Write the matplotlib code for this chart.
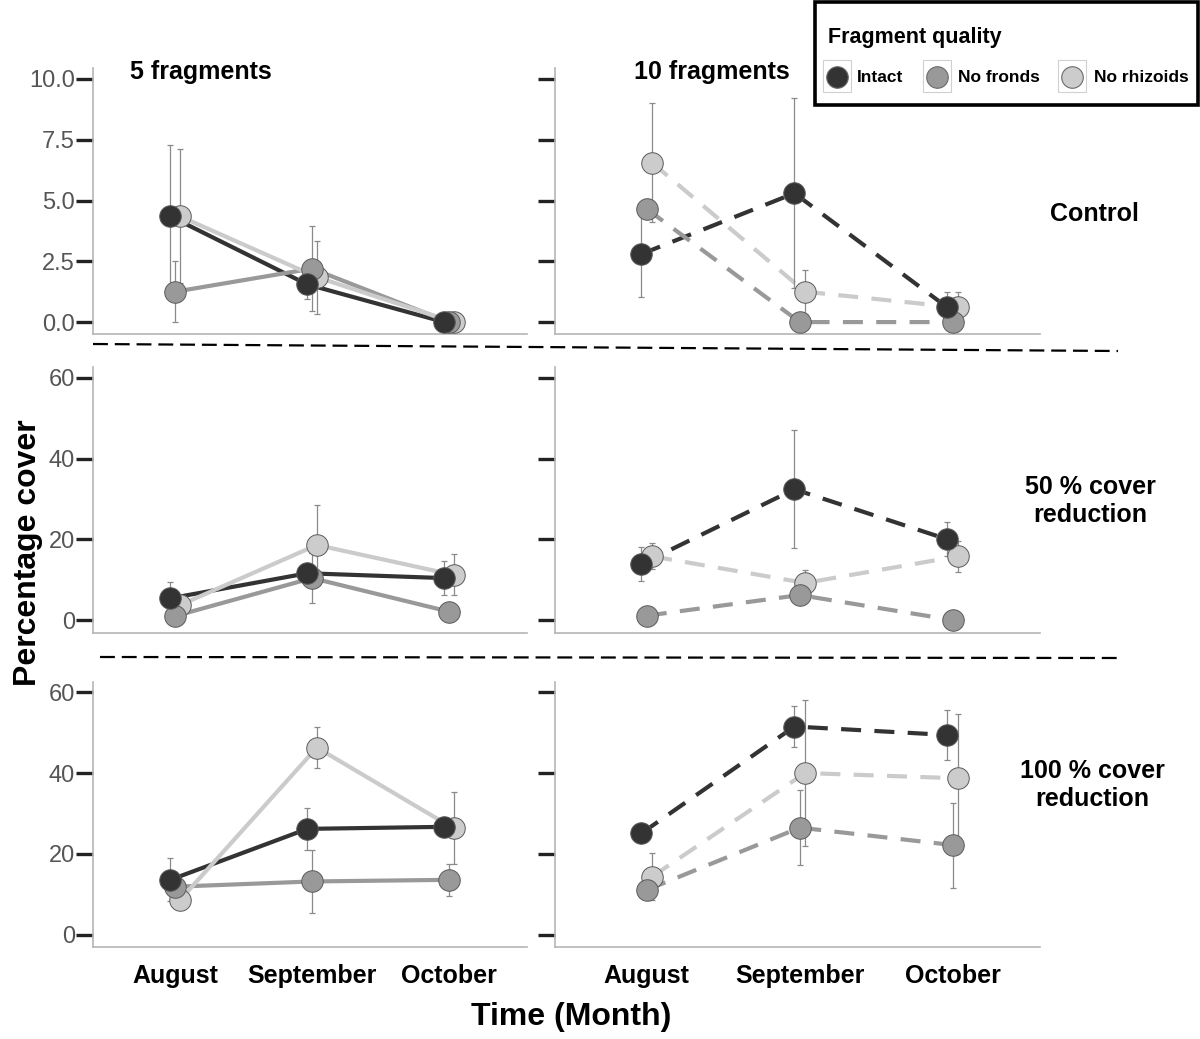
import matplotlib
matplotlib.use('Agg')
import matplotlib.pyplot as plt
from matplotlib.lines import Line2D
from matplotlib.patches import Rectangle
from matplotlib import font_manager
import numpy as np

plt.rcParams['font.family'] = ['Liberation Sans', 'DejaVu Sans']
_names = {f.name for f in font_manager.fontManager.ttflist}
TICKFONT = 'Liberation Sans Narrow' if 'Liberation Sans Narrow' in _names else 'Liberation Sans'
TICKSIZE = 19 if TICKFONT == 'Liberation Sans Narrow' else 17

# ---------------- data ----------------
months = ['August', 'September', 'October']
qualities = ['Intact', 'No fronds', 'No rhizoids']
fragments = ['5 fragments', '10 fragments']
treatments = ['Control', '50 % cover\nreduction', '100 % cover\nreduction']

# Control, 5 fragments
ctrl5_intact = [4.35, 1.55, 0.0]
ctrl5_intact_se = [2.95, 0.6, 0.0]
ctrl5_fronds = [1.25, 2.2, 0.0]
ctrl5_fronds_se = [1.25, 1.75, 0.0]
ctrl5_rhiz = [4.35, 1.85, 0.0]
ctrl5_rhiz_se = [2.75, 1.5, 0.0]

# Control, 10 fragments
ctrl10_intact = [2.8, 5.3, 0.6]
ctrl10_intact_se = [1.78, 3.9, 0.65]
ctrl10_fronds = [4.65, 0.0, 0.0]
ctrl10_fronds_se = [0.4, 0.0, 0.0]
ctrl10_rhiz = [6.55, 1.25, 0.6]
ctrl10_rhiz_se = [2.45, 0.9, 0.65]

# 50 % cover reduction, 5 fragments
red50_5_intact = [5.4, 11.6, 10.4]
red50_5_intact_se = [4.1, 1.0, 4.2]
red50_5_fronds = [1.0, 10.4, 2.1]
red50_5_fronds_se = [0.5, 6.2, 0.5]
red50_5_rhiz = [3.7, 18.6, 11.2]
red50_5_rhiz_se = [1.0, 9.9, 5.1]

# 50 % cover reduction, 10 fragments
red50_10_intact = [13.9, 32.4, 20.0]
red50_10_intact_se = [4.2, 14.6, 4.2]
red50_10_fronds = [1.1, 6.2, 0.0]
red50_10_fronds_se = [0.3, 1.0, 0.0]
red50_10_rhiz = [15.8, 9.2, 15.8]
red50_10_rhiz_se = [3.2, 3.2, 3.8]

# 100 % cover reduction, 5 fragments
red100_5_intact = [13.6, 26.2, 26.7]
red100_5_intact_se = [5.3, 5.2, 1.0]
red100_5_fronds = [11.9, 13.2, 13.6]
red100_5_fronds_se = [1.0, 7.8, 4.0]
red100_5_rhiz = [8.6, 46.3, 26.3]
red100_5_rhiz_se = [1.0, 5.1, 8.9]

# 100 % cover reduction, 10 fragments
red100_10_intact = [25.1, 51.5, 49.4]
red100_10_intact_se = [0.8, 5.1, 6.2]
red100_10_fronds = [11.1, 26.5, 22.2]
red100_10_fronds_se = [1.0, 9.2, 10.5]
red100_10_rhiz = [14.4, 40.0, 38.7]
red100_10_rhiz_se = [5.8, 18.1, 16.0]

panels = {
    (0, 0): ([ctrl5_intact, ctrl5_fronds, ctrl5_rhiz], [ctrl5_intact_se, ctrl5_fronds_se, ctrl5_rhiz_se]),
    (0, 1): ([ctrl10_intact, ctrl10_fronds, ctrl10_rhiz], [ctrl10_intact_se, ctrl10_fronds_se, ctrl10_rhiz_se]),
    (1, 0): ([red50_5_intact, red50_5_fronds, red50_5_rhiz], [red50_5_intact_se, red50_5_fronds_se, red50_5_rhiz_se]),
    (1, 1): ([red50_10_intact, red50_10_fronds, red50_10_rhiz], [red50_10_intact_se, red50_10_fronds_se, red50_10_rhiz_se]),
    (2, 0): ([red100_5_intact, red100_5_fronds, red100_5_rhiz], [red100_5_intact_se, red100_5_fronds_se, red100_5_rhiz_se]),
    (2, 1): ([red100_10_intact, red100_10_fronds, red100_10_rhiz], [red100_10_intact_se, red100_10_fronds_se, red100_10_rhiz_se]),
}

yticks_rows = [[0, 2.5, 5, 7.5, 10], [0, 20, 40, 60], [0, 20, 40, 60]]
yticklabels_rows = [['0.0', '2.5', '5.0', '7.5', '10.0'], ['0', '20', '40', '60'], ['0', '20', '40', '60']]

# ---------------- styling ----------------
fills = ['#333333', '#999999', '#cccccc']
line_cols = ['#333333', '#999999', '#cbcbcb']
dodge = [-0.035, 0.0, 0.035]

W, H = 1200, 1039
fig = plt.figure(figsize=(12, 10.39), dpi=100)

def fx(px):
    return px / W

def fy(py):
    return 1 - py / H

col_x = [(93, 527), (555, 1040)]
row_y = [(68, 334), (367, 633), (682, 947)]
ylims = [(-0.49, 10.45), (-3.2, 62.7), (-3.0, 62.5)]

for r in range(3):
    for c in range(2):
        x0, x1 = col_x[c]
        y0, y1 = row_y[r]
        ax = fig.add_axes([fx(x0), fy(y1), (x1 - x0) / W, (y1 - y0) / H])
        ax.set_xlim(0.4, 3.57)
        ax.set_ylim(*ylims[r])
        for s in ['top', 'right']:
            ax.spines[s].set_visible(False)
        for s in ['left', 'bottom']:
            ax.spines[s].set_color('#b5b5b5')
            ax.spines[s].set_linewidth(1.2)
        ax.set_yticks(yticks_rows[r])
        ax.set_yticklabels(yticklabels_rows[r], fontfamily=TICKFONT)
        ax.tick_params(axis='y', length=12, width=2.4, color='#222222',
                       labelsize=TICKSIZE, labelcolor='#555555', pad=1)
        if c == 1:
            ax.tick_params(axis='y', labelleft=False)
        ax.set_xticks([1, 2, 3])
        if r == 2:
            ax.set_xticklabels(months, fontsize=18, fontweight='bold')
        else:
            ax.set_xticklabels([])
        ax.tick_params(axis='x', length=0, pad=12)

        vals_list, se_list = panels[(r, c)]
        ls = '-' if c == 0 else (0, (4.8, 3.2))
        xs = np.arange(1, 4)
        for k in range(3):
            xk = xs + dodge[k]
            ax.plot(xk, vals_list[k], color=line_cols[k], lw=3.0, ls=ls,
                    zorder=2 + k, solid_capstyle='butt', dash_capstyle='butt')
        for k in range(3):
            xk = xs + dodge[k]
            ax.errorbar(xk, vals_list[k], yerr=se_list[k], fmt='none', ecolor='#8a8a8a',
                        elinewidth=0.9, capsize=2.5, capthick=0.9, zorder=6)
        for k in [2, 1, 0]:
            xk = xs + dodge[k]
            ax.plot(xk, vals_list[k], 'o', ms=15.5, mfc=fills[k], mec='#5a5a5a',
                    mew=0.7, ls='none', zorder=10 - k, clip_on=False)

# column titles
fig.text(fx(201), fy(72), fragments[0], fontsize=18, fontweight='bold', ha='center', va='center')
fig.text(fx(712), fy(72), fragments[1], fontsize=18, fontweight='bold', ha='center', va='center')

# row labels
row_label_pos = [(1094, 214), (1090, 501), (1092, 785)]
for (px, py), t in zip(row_label_pos, treatments):
    fig.text(fx(px), fy(py), t, fontsize=18, fontweight='bold', ha='center', va='center',
             linespacing=1.25)

# axis titles
fig.text(fx(28), fy(553), 'Percentage cover', rotation=90, fontsize=23, fontweight='bold',
         ha='center', va='center')
fig.text(fx(571), fy(1017), 'Time (Month)', fontsize=23, fontweight='bold',
         ha='center', va='center')

# dashed separators
fig.add_artist(Line2D([fx(93), fx(1118)], [fy(344), fy(351)], color='black', lw=1.6,
                      dashes=(6.7, 3.1), transform=fig.transFigure))
fig.add_artist(Line2D([fx(100), fx(1122)], [fy(657), fy(658)], color='black', lw=1.6,
                      dashes=(6.7, 3.1), transform=fig.transFigure))

# legend
fig.add_artist(Rectangle((fx(815), fy(105)), (1198 - 815) / W, (105 - 2) / H,
                         transform=fig.transFigure, facecolor='white', edgecolor='black',
                         lw=2.6, zorder=20))
fig.text(fx(828), fy(37), 'Fragment quality', fontsize=15.5, fontweight='bold',
         ha='left', va='center', zorder=21)
key_cx = [837, 937, 1072]
label_x = [857, 958, 1094]
for k in range(3):
    fig.add_artist(Rectangle((fx(key_cx[k] - 14), fy(92)), 28 / W, 32 / H,
                             transform=fig.transFigure, facecolor='white',
                             edgecolor='#d0d0d0', lw=0.8, zorder=21))
    fig.add_artist(Line2D([fx(key_cx[k])], [fy(77)], marker='o', ms=15.5, mfc=fills[k],
                          mec='#6a6a6a', mew=0.8, ls='none', transform=fig.transFigure,
                          zorder=22))
    fig.text(fx(label_x[k]), fy(78), qualities[k], fontsize=12.5, fontweight='bold',
             ha='left', va='center', zorder=22)

fig.savefig('out.png', dpi=100)
